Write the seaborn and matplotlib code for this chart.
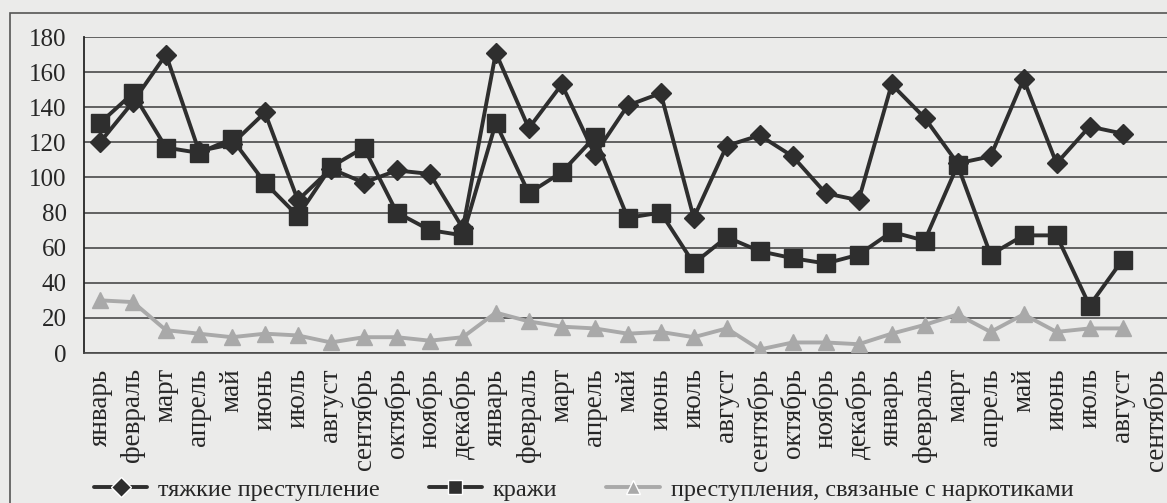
import numpy as np
import pandas as pd
import matplotlib
matplotlib.use("Agg")
import matplotlib.pyplot as plt
import seaborn as sns
from matplotlib.patches import Rectangle

# months: two full years + nine months of the third
months = ["январь", "февраль", "март", "апрель", "май", "июнь", "июль",
          "август", "ceнтябрь", "октябрь", "ноябрь", "декабрь",
          "январь", "февраль", "март", "апрель", "май", "июнь", "июль",
          "август", "сентябрь", "октябрь", "ноябрь", "декабрь",
          "январь", "февраль", "март", "апрель", "май", "июнь", "июль",
          "август", "сентябрь"]

heavy = [120, 143, 170, 115, 119, 137, 87, 105, 97, 104, 102, 71,
         171, 128, 153, 113, 141, 148, 77, 118, 124, 112, 91, 87,
         153, 134, 108, 112, 156, 108, 129, 125, np.nan]
theft = [131, 148, 117, 114, 122, 97, 78, 106, 117, 80, 70, 67,
         131, 91, 103, 123, 77, 80, 51, 66, 58, 54, 51, 56,
         69, 64, 107, 56, 67, 67, 27, 53, np.nan]
narco = [30, 29, 13, 11, 9, 11, 10, 6, 9, 9, 7, 9,
         23, 18, 15, 14, 11, 12, 9, 14, 2, 6, 6, 5,
         11, 16, 22, 12, 22, 12, 14, 14, np.nan]

names = ["тяжкие преступление", "кражи", "преступления, связаные с наркотиками"]

df = pd.DataFrame({"idx": range(len(months)),
                   names[0]: heavy, names[1]: theft, names[2]: narco})
long = df.melt(id_vars="idx", var_name="series", value_name="value").dropna()

sns.set_style("white")
plt.rcParams["font.family"] = ["Liberation Serif", "DejaVu Serif"]

bg = "#ebebea"
ink = "#262626"
fig = plt.figure(figsize=(11.67, 5.03), dpi=100, facecolor=bg)
ax = fig.add_axes([83.5 / 1167, 1 - 353 / 503, (1172 - 83.5) / 1167, (353 - 37) / 503])
ax.set_facecolor(bg)

sns.lineplot(data=long, x="idx", y="value", hue="series", style="series",
             hue_order=names, style_order=names,
             palette={names[0]: "#2e2e2e", names[1]: "#2e2e2e", names[2]: "#a9a9a9"},
             markers={names[0]: "D", names[1]: "s", names[2]: "^"},
             dashes=False, linewidth=2.8, markersize=10,
             markeredgewidth=1, ax=ax, zorder=3)
for ln, ms in zip(ax.lines[:3], [10, 13, 11.5]):
    ln.set_markersize(ms)
    ln.set_markeredgecolor(ln.get_color())

ax.set_xlim(-0.5, len(months) - 0.5)
ax.set_ylim(0, 180)
ax.set_yticks(range(0, 181, 20))
ax.yaxis.grid(True, color="#4a4a4a", linewidth=1.2)
ax.set_axisbelow(True)
for s in ["top", "right"]:
    ax.spines[s].set_visible(False)
ax.spines["left"].set_color(ink)
ax.spines["left"].set_linewidth(1.3)
ax.spines["bottom"].set_color("#4a4a4a")
ax.spines["bottom"].set_linewidth(1.2)

ax.set_xticks(range(len(months)))
ax.set_xticklabels(months, rotation=90, fontsize=19.5, color=ink)
ax.set_xticks(np.arange(-0.5, len(months)), minor=True)
ax.tick_params(axis="x", which="major", length=0, pad=11)
ax.tick_params(axis="x", which="minor", length=6, width=1, color=ink, direction="out")
ax.tick_params(axis="y", length=8, width=1.2, color=ink, pad=4, labelsize=18, labelcolor=ink)
ax.set_xlabel("")
ax.set_ylabel("")

sns.move_legend(ax, "center", bbox_to_anchor=(0.5, 0.026),
                bbox_transform=fig.transFigure, ncol=3, frameon=False, title=None,
                fontsize=17.5, handlelength=2.2, columnspacing=2.0, handletextpad=0.45)
for t in ax.get_legend().get_texts():
    t.set_color(ink)

# frame of the scanned chart
fig.patches.append(Rectangle((10 / 1167, -0.05), 1.2, 1.05 - 13 / 503,
                             transform=fig.transFigure, fill=False,
                             edgecolor="#555555", linewidth=1.2))

fig.savefig("out.png", dpi=100, facecolor=bg)
